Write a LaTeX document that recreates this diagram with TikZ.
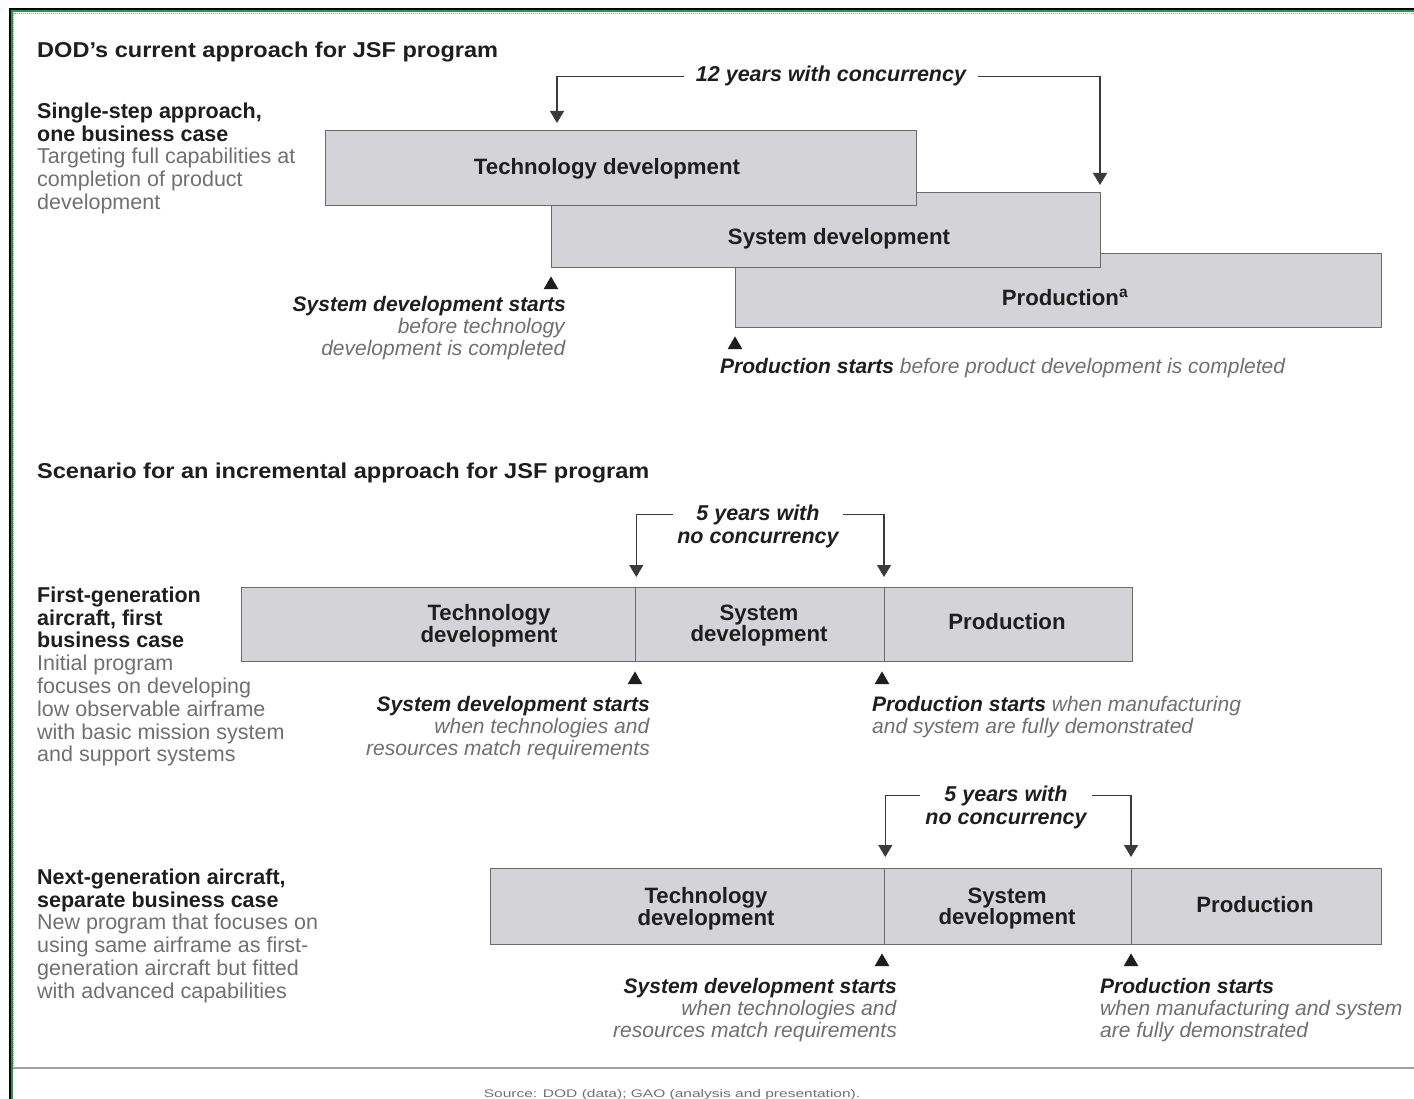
\documentclass[tikz,border=0pt]{standalone}
\usepackage{fontspec}
\setmainfont{Liberation Sans}
\usetikzlibrary{arrows.meta,shapes.geometric,calc}
\definecolor{ink}{HTML}{1E1E1E}
\definecolor{txtgray}{HTML}{707070}
\definecolor{boxfill}{HTML}{D4D4D8}
\definecolor{boxline}{HTML}{6A6A6A}
\definecolor{lineclr}{HTML}{3A3A3A}
\definecolor{frgreen}{HTML}{1A9A4A}
\definecolor{rulegray}{HTML}{A0A0A0}
\newcommand{\fsA}{\fontsize{21.5}{23}\selectfont}
\newcommand{\fsL}{\fontsize{22.2}{21.5}\selectfont}
\newcommand{\fsB}{\fontsize{21.5}{22.8}\selectfont}
\newcommand{\fsC}{\fontsize{21}{21.8}\selectfont}
\newcommand{\gr}[1]{\textcolor{txtgray}{#1}}
\newcommand{\bi}[1]{\textbf{\textit{#1}}}
\newcommand{\gi}[1]{\textcolor{txtgray}{\textit{#1}}}
\begin{document}
\begin{tikzpicture}[x=1pt,y=-1pt,
  box/.style={draw=boxline, fill=boxfill, line width=1.3pt, inner sep=0pt, anchor=north west},
  hd/.style={font=\fsA\bfseries, text=ink, inner sep=0pt},
  blk/.style={font=\fsB, text=ink, inner sep=0pt, align=left, anchor=north west},
  lbl/.style={font=\fsL\bfseries, text=ink, inner sep=0pt, align=center},
  note/.style={font=\fsC, text=ink, inner sep=0pt},
  yrs/.style={font=\fsA\bfseries\itshape, text=ink, inner ysep=0pt, align=center},
  arr/.style={draw=lineclr, line width=1.1pt, -{Triangle[width=14pt,length=12pt]}},
  upmark/.style={regular polygon, regular polygon sides=3, fill=ink, draw=none, minimum size=17pt, inner sep=0pt, anchor=corner 1}
]
\useasboundingbox (0,0) rectangle (1414,1099);
\fill[white] (0,0) rectangle (1414,1099);
% frame
\draw[black, line width=2pt] (9.5,1099) -- (9.5,9.5) -- (1414,9.5);
\draw[frgreen, line width=2pt] (11.5,1099) -- (11.5,11.5) -- (1414,11.5);
\draw[rulegray, line width=1pt, densely dotted] (13.5,1068) -- (13.5,13.5) -- (1414,13.5);
\draw[rulegray, line width=1.6pt] (13,1068) -- (1414,1068);

% ===== Section 1 =====
\node[hd, anchor=base west] (t1) at (37,57.5) {\scalebox{1.095}[1]{DOD's current approach for JSF program}};
\node[blk] (A) at (37,102.5) {\textbf{Single-step approach,}\\ \textbf{one business case}\\ \gr{Targeting full capabilities at}\\ \gr{completion of product}\\ \gr{development}};

\node[box, minimum width=646pt, minimum height=74pt] (prod0) at (735,253) {};
\node[box, minimum width=549pt, minimum height=75pt] (sys0) at (551,192) {};
\node[box, minimum width=591pt, minimum height=75pt] (tech0) at (325,130) {};
\node[lbl, anchor=base] (tech0l) at (607,174.5) {Technology development};
\node[lbl, anchor=base] (sys0l) at (839,244.5) {System development};
\node[lbl, anchor=base] (prod0l) at (1065,305.5) {Production\textsuperscript{a}};

\node[yrs, anchor=base, inner xsep=12pt] (y12) at (831,82) {12 years with concurrency};
\coordinate (a12l) at (557,123);
\coordinate (a12r) at (1100,185);
\draw[arr] (y12.west) -| (a12l);
\draw[arr] (y12.east) -| (a12r);

\node[upmark] (m1) at (551,276) {};
\node[note, align=right, anchor=north east] (n1) at (566,296.5) {\bi{System development starts}\\ \gi{before technology}\\ \gi{development is completed}};
\node[upmark] (m2) at (735,336) {};
\node[note, anchor=base west] (n2) at (720,373.5) {\bi{Production starts} \gi{before product development is completed}};

% ===== Section 2 =====
\node[hd, anchor=base west] (t2) at (37,478.5) {\scalebox{1.095}[1]{Scenario for an incremental approach for JSF program}};
\node[yrs, anchor=north, inner xsep=4pt] (y5a) at (758,504.5) {5 years with\\ no concurrency};

\node[box, minimum width=394pt, minimum height=74pt] (tech1) at (241,587) {};
\node[box, minimum width=249pt, minimum height=74pt] (sys1) at (635,587) {};
\node[box, minimum width=248pt, minimum height=74pt] (prod1) at (884,587) {};
\node[lbl, anchor=north] (tech1l) at (489,604.5) {Technology\\ development};
\node[lbl, anchor=north] (sys1l) at (759,604.5) {System\\ development};
\node[lbl, anchor=base] (prod1l) at (1007,629.5) {Production};

\draw[arr] ([yshift=-10pt]y5a.north west) -| ([yshift=10pt]tech1.north east);
\draw[arr] ([yshift=-10pt]y5a.north east) -| ([yshift=10pt]prod1.north west);

\node[blk] (B) at (37,586.5) {\textbf{First-generation}\\ \textbf{aircraft, first}\\ \textbf{business case}\\ \gr{Initial program}\\ \gr{focuses on developing}\\ \gr{low observable airframe}\\ \gr{with basic mission system}\\ \gr{and support systems}};

\node[upmark] (m3) at (635,671) {};
\node[upmark] (m4) at (882,671) {};
\node[note, align=right, anchor=north east] (n3) at (650,696.5) {\bi{System development starts}\\ \gi{when technologies and}\\ \gi{resources match requirements}};
\node[note, align=left, anchor=north west] (n4) at (872,696.5) {\bi{Production starts} \gi{when manufacturing}\\ \gi{and system are fully demonstrated}};

% ===== Section 3 =====
\node[yrs, anchor=north, inner xsep=5pt] (y5b) at (1006,785.5) {5 years with\\ no concurrency};

\node[box, minimum width=394pt, minimum height=76pt] (tech2) at (490,868) {};
\node[box, minimum width=247pt, minimum height=76pt] (sys2) at (884,868) {};
\node[box, minimum width=250pt, minimum height=76pt] (prod2) at (1131,868) {};
\node[lbl, anchor=north] (tech2l) at (706,887.5) {Technology\\ development};
\node[lbl, anchor=north] (sys2l) at (1007,887.5) {System\\ development};
\node[lbl, anchor=base] (prod2l) at (1255,912.5) {Production};

\draw[arr] ([yshift=-10pt]y5b.north west) -| ([yshift=11pt]tech2.north east);
\draw[arr] ([yshift=-10pt]y5b.north east) -| ([yshift=11pt]prod2.north west);

\node[blk] (C) at (37,868.5) {\textbf{Next-generation aircraft,}\\ \textbf{separate business case}\\ \gr{New program that focuses on}\\ \gr{using same airframe as first-}\\ \gr{generation aircraft but fitted}\\ \gr{with advanced capabilities}};

\node[upmark] (m5) at (882,953) {};
\node[upmark] (m6) at (1131,953) {};
\node[note, align=right, anchor=north east] (n5) at (897,978.5) {\bi{System development starts}\\ \gi{when technologies and}\\ \gi{resources match requirements}};
\node[note, align=left, anchor=north west] (n6) at (1100,978.5) {\bi{Production starts}\\ \gi{when manufacturing and system}\\ \gi{are fully demonstrated}};

% source
\node[inner sep=0pt, anchor=base, text=txtgray, font=\fontsize{11}{12}\selectfont] (src) at (672,1097) {\scalebox{1.41}[1]{Source: DOD (data); GAO (analysis and presentation).}};
\end{tikzpicture}
\end{document}
